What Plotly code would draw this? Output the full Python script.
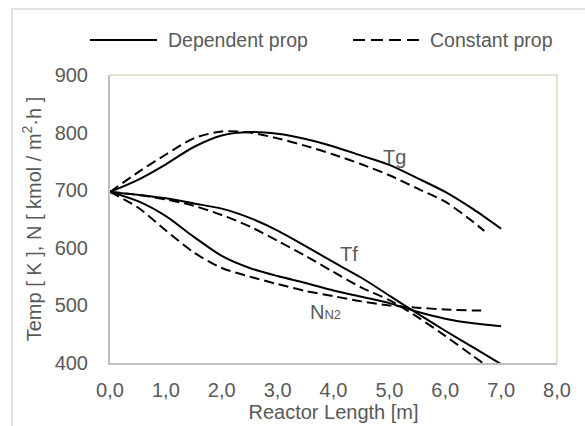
import plotly.graph_objects as go

# ---- data ----
x_dep = [0.0, 0.5, 1.0, 1.5, 2.0, 2.5, 3.0, 3.5, 4.0, 4.5, 5.0, 5.5, 6.0, 6.5, 7.0]
tg_dep = [697, 718, 745, 775, 795, 801, 798, 789, 776, 760, 744, 721, 697, 667, 633]
tf_dep = [697, 692, 686, 677, 668, 652, 630, 603, 575, 548, 517, 486, 456, 427, 398]
n2_dep = [697, 681, 655, 619, 586, 565, 551, 539, 526, 515, 504, 489, 477, 469, 464]

x_con = [0.0, 0.5, 1.0, 1.5, 2.0, 2.5, 3.0, 3.5, 4.0, 4.5, 5.0, 5.5, 6.0, 6.5, 6.7]
tg_con = [697, 731, 762, 790, 802, 800, 790, 777, 762, 745, 726, 703, 680, 645, 629]
tf_con = [697, 692, 684, 673, 657, 637, 612, 586, 558, 531, 509, 480, 447, 412, 398]
n2_con = [697, 670, 630, 592, 565, 550, 537, 525, 516, 507, 500, 496, 493, 491, 491]

x_ticks = [0, 1, 2, 3, 4, 5, 6, 7, 8]
y_ticks = [400, 500, 600, 700, 800, 900]

legend_names = ["Dependent prop", "Constant prop"]
curve_labels = ["Tg", "Tf", "N<span style='font-size:13px'>N2</span>"]
label_x = [5.1, 4.28, 3.86]
label_y = [757, 590, 488]

FONT = "Liberation Sans, Arial, sans-serif"
TXT = "#595959"
SOLID = dict(color="black", width=2)
DASHED = dict(color="black", width=2, dash="10px,5px")

fig = go.Figure()
for y in (tg_dep, tf_dep, n2_dep):
    fig.add_trace(go.Scatter(x=x_dep, y=y, mode="lines",
                             line=dict(**SOLID, shape="spline", smoothing=0.8),
                             showlegend=False, hoverinfo="skip"))
for y in (tg_con, tf_con, n2_con):
    fig.add_trace(go.Scatter(x=x_con, y=y, mode="lines",
                             line=dict(**DASHED, shape="spline", smoothing=0.8),
                             showlegend=False, hoverinfo="skip"))

annotations = []
for t, xx, yy in zip(curve_labels, label_x, label_y):
    annotations.append(dict(x=xx, y=yy, xref="x", yref="y", text=t, showarrow=False,
                            font=dict(family=FONT, size=20, color=TXT)))

# manual legend (long line samples as in the reference)
W, H = 585, 426
L, R, T, B = 110, 28, 75, 63
pw, ph = W - L - R, H - T - B
def px(xp):
    return (xp - L) / pw
def py(yp):
    return (H - B - yp) / ph

shapes = [
    # outer chart border
    dict(type="rect", xref="paper", yref="paper", x0=px(12), x1=px(640), y0=py(480), y1=py(9),
         line=dict(color="#d9d9d9", width=1.5), layer="below"),
    # top/right plot border (beige)
    dict(type="path", xref="paper", yref="paper", path="M 0 1 L 1 1 L 1 0",
         line=dict(color="#ddd8c4", width=1.5), layer="below"),
    dict(type="line", xref="paper", yref="paper", x0=px(90), x1=px(157), y0=py(40), y1=py(40),
         line=SOLID),
    dict(type="line", xref="paper", yref="paper", x0=px(353), x1=px(422), y0=py(40), y1=py(40),
         line=dict(color="black", width=2, dash="12px,6px")),
]
annotations += [
    dict(xref="paper", yref="paper", x=px(166), y=py(40), xanchor="left", yanchor="middle",
         text=legend_names[0], showarrow=False, font=dict(family=FONT, size=19.5, color=TXT)),
    dict(xref="paper", yref="paper", x=px(428), y=py(40), xanchor="left", yanchor="middle",
         text=legend_names[1], showarrow=False, font=dict(family=FONT, size=19.5, color=TXT)),
]

fig.update_layout(
    width=W, height=H,
    margin=dict(l=L, r=R, t=T, b=B, autoexpand=False),
    paper_bgcolor="white", plot_bgcolor="white",
    separators=", ",
    showlegend=False,
    shapes=shapes, annotations=annotations,
    font=dict(family=FONT, size=20, color=TXT),
)
fig.update_xaxes(
    range=[0, 8], tickvals=x_ticks, tickformat=".1f", showgrid=False, zeroline=False,
    showline=True, linecolor="#bfbfbf", linewidth=2, ticks="",
    ticklabelstandoff=8,
    tickfont=dict(family=FONT, size=20, color=TXT),
    title=dict(text="Reactor Length [m]", font=dict(family=FONT, size=20, color=TXT), standoff=0),
)
fig.update_yaxes(
    range=[400, 900], tickvals=y_ticks, showgrid=False, zeroline=False,
    showline=True, linecolor="#bfbfbf", linewidth=2, ticks="",
    ticklabelstandoff=16,
    tickfont=dict(family=FONT, size=20, color=TXT),
    title=dict(text="Temp [ K ], N [ kmol / m<sup>2</sup>·h ]",
               font=dict(family=FONT, size=20, color=TXT), standoff=8),
)

fig.write_html("out.html", config={"displayModeBar": False, "staticPlot": True},
               post_script="document.body.style.margin='0';document.body.style.overflow='hidden';")
